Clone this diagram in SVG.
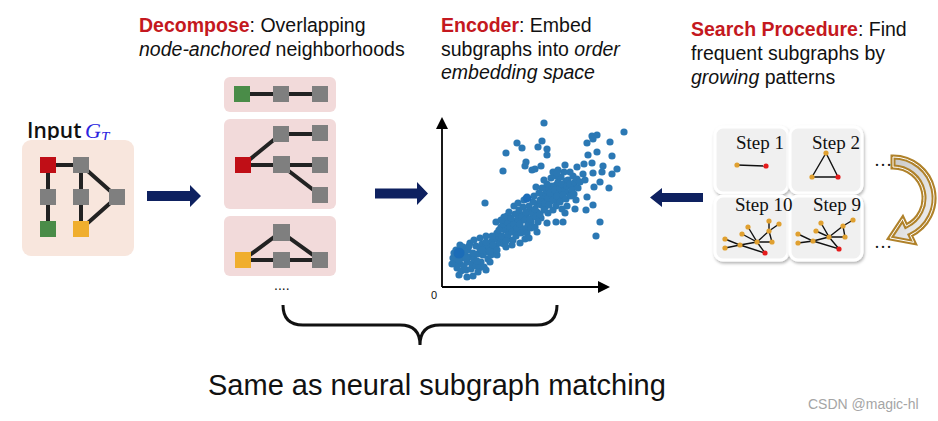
<svg xmlns="http://www.w3.org/2000/svg" width="938" height="421" viewBox="0 0 938 421">
<defs>
<style>
.t{font-family:"Liberation Sans",Arial,sans-serif;font-size:19.5px;fill:#111}
.red{fill:#C41820;font-weight:bold}
.it{font-style:italic}
.edge{stroke:#222;stroke-width:4;fill:none}
.gray{fill:#7F7F7F}
.pt circle{r:3.6px}
.pt{fill:#2B78B4}
.se{stroke:#111;stroke-width:1.4;fill:none}
.on{fill:#E0A030}
.rn{fill:#E51B1B}
.step{font-family:"Liberation Serif","Times New Roman",serif;font-size:19px;fill:#111}
.nav{fill:#0E2160}
.tile{fill:#F0F0F0;stroke:#fff;stroke-width:3}
</style>
<filter id="sh" x="-20%" y="-20%" width="140%" height="140%">
<feDropShadow dx="1" dy="2" stdDeviation="1.5" flood-color="#000" flood-opacity="0.3"/>
</filter>
<marker id="ah" viewBox="0 0 12 12" refX="10" refY="6" markerWidth="12" markerHeight="12" markerUnits="userSpaceOnUse" orient="auto">
<path d="M0,0 L12,6 L0,12 Z" fill="#000"/>
</marker>
<linearGradient id="ag" x1="0" y1="0" x2="1" y2="1">
<stop offset="0" stop-color="#C8C8C8"/>
<stop offset="1" stop-color="#F4F4F4"/>
</linearGradient>
</defs>
<rect width="938" height="421" fill="#fff"/>

<!-- Headings -->
<g id="decompose-label">
<text class="t" x="139" y="32"><tspan class="red">Decompose</tspan>: Overlapping</text>
<text class="t" x="139" y="55.5"><tspan class="it">node-anchored</tspan> neighborhoods</text>
</g>
<g id="encoder-label">
<text class="t" x="441" y="32"><tspan class="red">Encoder</tspan>: Embed</text>
<text class="t" x="441" y="55.5">subgraphs into <tspan class="it">order</tspan></text>
<text class="t" x="441" y="79" font-style="italic">embedding space</text>
</g>
<g id="search-label">
<text class="t" x="691" y="35.5"><tspan class="red">Search Procedure</tspan>: Find</text>
<text class="t" x="691" y="59.5">frequent subgraphs by</text>
<text class="t" x="691" y="83.5"><tspan class="it">growing</tspan> patterns</text>
</g>

<!-- Input graph -->
<g id="input">
<text x="27" y="138" font-family="'Open Sans','Noto Sans',sans-serif" font-size="21" font-weight="600" fill="#111">Input</text>
<text x="85" y="138" font-family="'Liberation Serif',serif" font-style="italic" font-size="22" fill="#2A24E0">G<tspan font-size="15" dy="4">T</tspan></text>
<rect x="22" y="140" width="112" height="116" rx="9" fill="#F8E6DD"/>
<path class="edge" d="M48,165 H81 M48,165 V229 M81,165 V229 M81,165 L117,197 L81,229"/>
<rect x="40" y="157" width="16" height="16" fill="#C00E16"/>
<rect class="gray" x="73" y="157" width="16" height="16"/>
<rect class="gray" x="40" y="189" width="16" height="16"/>
<rect class="gray" x="73" y="189" width="16" height="16"/>
<rect class="gray" x="109" y="189" width="16" height="16"/>
<rect x="40" y="221" width="16" height="16" fill="#4A8C48"/>
<rect x="73" y="221" width="16" height="16" fill="#F0AE2E"/>
</g>

<!-- Decompose panels -->
<g id="nbr1">
<rect x="224" y="77" width="112" height="35" rx="6" fill="#F2DADA"/>
<path class="edge" d="M242,94 H320"/>
<rect x="234" y="86" width="16" height="16" fill="#4A8C48"/>
<rect class="gray" x="273" y="86" width="16" height="16"/>
<rect class="gray" x="312" y="86" width="16" height="16"/>
</g>
<g id="nbr2">
<rect x="224" y="119" width="112" height="90" rx="6" fill="#F2DADA"/>
<path class="edge" d="M243,165 L281,134 H320 M243,165 H320 M281,165 L320,195"/>
<rect x="235" y="157" width="16" height="16" fill="#C00E16"/>
<rect class="gray" x="273" y="126" width="16" height="16"/>
<rect class="gray" x="312" y="125" width="16" height="16"/>
<rect class="gray" x="273" y="156" width="17" height="17"/>
<rect class="gray" x="312" y="157" width="16" height="16"/>
<rect class="gray" x="312" y="187" width="16" height="16"/>
</g>
<g id="nbr3">
<rect x="224" y="216" width="112" height="60" rx="6" fill="#F2DADA"/>
<path class="edge" d="M243,260 L281,232 L320,260 H243"/>
<rect x="235" y="252" width="16" height="16" fill="#F0AE2E"/>
<rect class="gray" x="273" y="224" width="17" height="17"/>
<rect class="gray" x="273" y="252" width="17" height="16"/>
<rect class="gray" x="312" y="252" width="16" height="16"/>
</g>
<text x="274" y="290" font-family="'Liberation Sans',sans-serif" font-size="14" fill="#111">....</text>

<!-- Block arrows -->
<g id="connectors">
<path class="nav" d="M147,191 H190 V185 L201,196 L190,207 V201 H147 Z"/>
<path class="nav" d="M375,188.5 H417 V182 L428,193.5 L417,205 V198.5 H375 Z"/>
<path class="nav" d="M703,193 H662 V188 L650,197.5 L662,207 V202 H703 Z"/>
<path d="M893,157 A41,41 0 0 1 910.3,235.2 L913.7,242.4 L890,238 L902.7,218.8 L906.1,226.1 A31,31 0 0 0 893,167 Z" fill="url(#ag)" stroke="#B0822A" stroke-width="5" stroke-linejoin="miter"/>
<path d="M893,157 A41,41 0 0 1 910.3,235.2 L913.7,242.4 L890,238 L902.7,218.8 L906.1,226.1 A31,31 0 0 0 893,167 Z" fill="none" stroke="#fff" stroke-width="1"/>
<path d="M283,305 Q283,325 303,325 L400,325 Q420,325 420,345 Q420,325 440,325 L537,325 Q557,325 557,305" fill="none" stroke="#111" stroke-width="3"/>
</g>

<!-- Scatter plot -->
<g id="plot">
<path d="M442,287 V119" stroke="#000" stroke-width="1.8" marker-end="url(#ah)"/>
<path d="M442,287 H608" stroke="#000" stroke-width="1.8" marker-end="url(#ah)"/>
<text x="431" y="299" font-family="'Liberation Sans',sans-serif" font-size="11" fill="#111">0</text>
<g class="pt">
<circle cx="456" cy="250" r="3.6"/><circle cx="458" cy="256" r="3.6"/><circle cx="455" cy="262" r="3.6"/><circle cx="460" cy="264" r="3.6"/><circle cx="462" cy="258" r="3.6"/><circle cx="465" cy="253" r="3.6"/><circle cx="463" cy="247" r="3.6"/><circle cx="468" cy="250" r="3.6"/><circle cx="470" cy="257" r="3.6"/><circle cx="467" cy="262" r="3.6"/><circle cx="472" cy="264" r="3.6"/><circle cx="457" cy="268" r="3.6"/><circle cx="461" cy="271" r="3.6"/><circle cx="466" cy="270" r="3.6"/><circle cx="471" cy="269" r="3.6"/><circle cx="476" cy="266" r="3.6"/><circle cx="474" cy="259" r="3.6"/><circle cx="478" cy="254" r="3.6"/><circle cx="480" cy="249" r="3.6"/><circle cx="476" cy="246" r="3.6"/><circle cx="482" cy="244" r="3.6"/><circle cx="485" cy="248" r="3.6"/><circle cx="483" cy="255" r="3.6"/><circle cx="487" cy="252" r="3.6"/><circle cx="488" cy="259" r="3.6"/><circle cx="481" cy="262" r="3.6"/><circle cx="479" cy="268" r="3.6"/><circle cx="484" cy="267" r="3.6"/><circle cx="490" cy="262" r="3.6"/><circle cx="489" cy="246" r="3.6"/><circle cx="492" cy="241" r="3.6"/><circle cx="494" cy="250" r="3.6"/><circle cx="491" cy="255" r="3.6"/><circle cx="496" cy="246" r="3.6"/><circle cx="498" cy="240" r="3.6"/><circle cx="495" cy="236" r="3.6"/><circle cx="500" cy="243" r="3.6"/><circle cx="497" cy="255" r="3.6"/><circle cx="473" cy="276" r="3.6"/><circle cx="467" cy="277" r="3.6"/><circle cx="478" cy="272" r="3.6"/><circle cx="486" cy="270" r="3.6"/><circle cx="459" cy="275" r="3.6"/><circle cx="453" cy="258" r="3.6"/><circle cx="454" cy="253" r="3.6"/><circle cx="460" cy="245" r="3.6"/><circle cx="470" cy="243" r="3.6"/><circle cx="474" cy="240" r="3.6"/><circle cx="480" cy="238" r="3.6"/><circle cx="486" cy="236" r="3.6"/><circle cx="452" cy="264" r="3.6"/>
<circle cx="459" cy="260" r="3.6"/><circle cx="464" cy="266" r="3.6"/><circle cx="469" cy="246" r="3.6"/><circle cx="473" cy="253" r="3.6"/><circle cx="477" cy="261" r="3.6"/><circle cx="482" cy="250" r="3.6"/><circle cx="486" cy="242" r="3.6"/><circle cx="490" cy="251" r="3.6"/><circle cx="493" cy="245" r="3.6"/><circle cx="497" cy="250" r="3.6"/><circle cx="501" cy="238" r="3.6"/><circle cx="504" cy="244" r="3.6"/><circle cx="508" cy="239" r="3.6"/><circle cx="505" cy="226" r="3.6"/><circle cx="509" cy="231" r="3.6"/><circle cx="513" cy="228" r="3.6"/><circle cx="516" cy="221" r="3.6"/><circle cx="516" cy="232" r="3.6"/><circle cx="521" cy="228" r="3.6"/><circle cx="522" cy="220" r="3.6"/><circle cx="526" cy="216" r="3.6"/><circle cx="527" cy="228" r="3.6"/><circle cx="531" cy="222" r="3.6"/><circle cx="533" cy="217" r="3.6"/><circle cx="537" cy="212" r="3.6"/><circle cx="530" cy="210" r="3.6"/><circle cx="537" cy="204" r="3.6"/><circle cx="542" cy="199" r="3.6"/><circle cx="545" cy="207" r="3.6"/><circle cx="541" cy="218" r="3.6"/><circle cx="546" cy="196" r="3.6"/><circle cx="551" cy="201" r="3.6"/><circle cx="553" cy="194" r="3.6"/><circle cx="557" cy="201" r="3.6"/><circle cx="559" cy="193" r="3.6"/><circle cx="562" cy="199" r="3.6"/><circle cx="564" cy="187" r="3.6"/><circle cx="569" cy="193" r="3.6"/><circle cx="571" cy="187" r="3.6"/><circle cx="574" cy="185" r="3.6"/><circle cx="566" cy="181" r="3.6"/><circle cx="556" cy="185" r="3.6"/><circle cx="549" cy="189" r="3.6"/><circle cx="520" cy="214" r="3.6"/><circle cx="512" cy="221" r="3.6"/><circle cx="507" cy="216" r="3.6"/><circle cx="501" cy="227" r="3.6"/><circle cx="497" cy="233" r="3.6"/><circle cx="492" cy="236" r="3.6"/><circle cx="466" cy="258" r="3.6"/>
<circle cx="502" cy="236" r="3.6"/><circle cx="505" cy="230" r="3.6"/><circle cx="503" cy="224" r="3.6"/><circle cx="507" cy="222" r="3.6"/><circle cx="510" cy="227" r="3.6"/><circle cx="508" cy="235" r="3.6"/><circle cx="512" cy="232" r="3.6"/><circle cx="514" cy="224" r="3.6"/><circle cx="511" cy="218" r="3.6"/><circle cx="515" cy="214" r="3.6"/><circle cx="518" cy="219" r="3.6"/><circle cx="517" cy="228" r="3.6"/><circle cx="520" cy="224" r="3.6"/><circle cx="522" cy="216" r="3.6"/><circle cx="519" cy="210" r="3.6"/><circle cx="523" cy="207" r="3.6"/><circle cx="526" cy="212" r="3.6"/><circle cx="525" cy="220" r="3.6"/><circle cx="528" cy="225" r="3.6"/><circle cx="524" cy="229" r="3.6"/><circle cx="530" cy="219" r="3.6"/><circle cx="532" cy="213" r="3.6"/><circle cx="529" cy="206" r="3.6"/><circle cx="533" cy="202" r="3.6"/><circle cx="535" cy="209" r="3.6"/><circle cx="536" cy="217" r="3.6"/><circle cx="513" cy="240" r="3.6"/><circle cx="506" cy="241" r="3.6"/><circle cx="516" cy="236" r="3.6"/><circle cx="521" cy="233" r="3.6"/><circle cx="527" cy="233" r="3.6"/><circle cx="531" cy="228" r="3.6"/><circle cx="509" cy="212" r="3.6"/><circle cx="504" cy="217" r="3.6"/><circle cx="499" cy="230" r="3.6"/><circle cx="501" cy="220" r="3.6"/><circle cx="514" cy="206" r="3.6"/><circle cx="518" cy="203" r="3.6"/><circle cx="524" cy="200" r="3.6"/><circle cx="535" cy="227" r="3.6"/><circle cx="538" cy="222" r="3.6"/><circle cx="525" cy="239" r="3.6"/><circle cx="520" cy="243" r="3.6"/><circle cx="529" cy="238" r="3.6"/><circle cx="512" cy="245" r="3.6"/><circle cx="506" cy="247" r="3.6"/><circle cx="537" cy="232" r="3.6"/><circle cx="540" cy="214" r="3.6"/><circle cx="541" cy="205" r="3.6"/><circle cx="534" cy="196" r="3.6"/>
<circle cx="540" cy="200" r="3.6"/><circle cx="543" cy="195" r="3.6"/><circle cx="545" cy="203" r="3.6"/><circle cx="548" cy="198" r="3.6"/><circle cx="546" cy="190" r="3.6"/><circle cx="550" cy="193" r="3.6"/><circle cx="552" cy="186" r="3.6"/><circle cx="555" cy="190" r="3.6"/><circle cx="553" cy="200" r="3.6"/><circle cx="557" cy="196" r="3.6"/><circle cx="560" cy="188" r="3.6"/><circle cx="558" cy="182" r="3.6"/><circle cx="562" cy="184" r="3.6"/><circle cx="565" cy="190" r="3.6"/><circle cx="563" cy="195" r="3.6"/><circle cx="567" cy="186" r="3.6"/><circle cx="568" cy="180" r="3.6"/><circle cx="570" cy="184" r="3.6"/><circle cx="572" cy="190" r="3.6"/><circle cx="575" cy="182" r="3.6"/><circle cx="573" cy="176" r="3.6"/><circle cx="577" cy="179" r="3.6"/><circle cx="549" cy="205" r="3.6"/><circle cx="544" cy="210" r="3.6"/><circle cx="556" cy="206" r="3.6"/><circle cx="560" cy="202" r="3.6"/><circle cx="566" cy="199" r="3.6"/><circle cx="571" cy="196" r="3.6"/><circle cx="551" cy="178" r="3.6"/><circle cx="556" cy="176" r="3.6"/><circle cx="561" cy="177" r="3.6"/><circle cx="547" cy="184" r="3.6"/><circle cx="542" cy="188" r="3.6"/><circle cx="539" cy="193" r="3.6"/><circle cx="578" cy="188" r="3.6"/><circle cx="580" cy="182" r="3.6"/><circle cx="574" cy="194" r="3.6"/><circle cx="548" cy="213" r="3.6"/><circle cx="553" cy="210" r="3.6"/><circle cx="562" cy="209" r="3.6"/><circle cx="567" cy="206" r="3.6"/><circle cx="576" cy="200" r="3.6"/><circle cx="544" cy="180" r="3.6"/><circle cx="570" cy="172" r="3.6"/><circle cx="564" cy="172" r="3.6"/><circle cx="536" cy="187" r="3.6"/><circle cx="558" cy="170" r="3.6"/><circle cx="553" cy="172" r="3.6"/>
<circle cx="517" cy="143" r="3.6"/><circle cx="522" cy="148" r="3.6"/><circle cx="538" cy="147" r="3.6"/><circle cx="542" cy="141" r="3.6"/><circle cx="547" cy="149" r="3.6"/><circle cx="506" cy="153" r="3.6"/><circle cx="547" cy="155" r="3.6"/><circle cx="526" cy="162" r="3.6"/><circle cx="541" cy="166" r="3.6"/><circle cx="525" cy="166" r="3.6"/><circle cx="503" cy="171" r="3.6"/><circle cx="532" cy="170" r="3.6"/><circle cx="535" cy="169" r="3.6"/><circle cx="565" cy="165" r="3.6"/><circle cx="557" cy="173" r="3.6"/><circle cx="587" cy="143" r="3.6"/><circle cx="592" cy="136" r="3.6"/><circle cx="597" cy="135" r="3.6"/><circle cx="593" cy="139" r="3.6"/><circle cx="610" cy="142" r="3.6"/><circle cx="597" cy="152" r="3.6"/><circle cx="588" cy="155" r="3.6"/><circle cx="612" cy="156" r="3.6"/><circle cx="603" cy="166" r="3.6"/><circle cx="577" cy="167" r="3.6"/><circle cx="584" cy="164" r="3.6"/><circle cx="592" cy="163" r="3.6"/><circle cx="617" cy="169" r="3.6"/><circle cx="612" cy="174" r="3.6"/><circle cx="602" cy="172" r="3.6"/><circle cx="583" cy="174" r="3.6"/><circle cx="593" cy="173" r="3.6"/><circle cx="600" cy="182" r="3.6"/><circle cx="609" cy="188" r="3.6"/><circle cx="594" cy="187" r="3.6"/><circle cx="585" cy="180" r="3.6"/><circle cx="587" cy="197" r="3.6"/><circle cx="593" cy="205" r="3.6"/><circle cx="586" cy="210" r="3.6"/><circle cx="575" cy="209" r="3.6"/><circle cx="600" cy="222" r="3.6"/><circle cx="596" cy="236" r="3.6"/><circle cx="485" cy="203" r="3.6"/><circle cx="563" cy="222" r="3.6"/><circle cx="547" cy="223" r="3.6"/><circle cx="556" cy="222" r="3.6"/><circle cx="565" cy="213" r="3.6"/><circle cx="544" cy="123" r="3.6"/><circle cx="624" cy="132" r="3.6"/><circle cx="496" cy="222" r="3.6"/>
</g>
<circle cx="527" cy="198" r="4.4" fill="#1C6DB8"/>
<circle cx="459" cy="253" r="5.5" fill="#1C6DB8"/>
</g>

<!-- Search steps -->
<g id="step1">
<rect class="tile" x="715" y="127" width="73" height="66" rx="8" filter="url(#sh)"/>
<path class="se" d="M737,165 L766,166"/>
<circle class="on" cx="737" cy="165" r="2.6"/><circle class="rn" cx="766" cy="166" r="2.6"/>
</g>
<g id="step2">
<rect class="tile" x="790" y="127" width="72" height="66" rx="8" filter="url(#sh)"/>
<path class="se" d="M826,153 L812,177 L838,177 Z"/>
<circle class="on" cx="826" cy="153" r="2.6"/><circle class="on" cx="812" cy="177" r="2.6"/><circle class="rn" cx="838" cy="177" r="2.6"/>
</g>
<g id="step10">
<rect class="tile" x="715" y="196" width="73" height="64" rx="8" filter="url(#sh)"/>
<path class="se" d="M725,239 L740,245 L725,248 M740,245 L757,242 M740,245 L765,253 L757,242 M748,227 L757,242 L742,234 M757,242 L769,231 L772,242 Z M769,231 L769,221 M769,231 L779,224"/>
<circle class="on" cx="725" cy="239" r="2.6"/><circle class="on" cx="725" cy="248" r="2.6"/><circle class="on" cx="740" cy="245" r="2.6"/><circle class="on" cx="748" cy="227" r="2.6"/><circle class="on" cx="742" cy="234" r="2.6"/><circle class="on" cx="757" cy="242" r="2.6"/><circle class="on" cx="769" cy="221" r="2.6"/><circle class="on" cx="779" cy="224" r="2.6"/><circle class="on" cx="769" cy="231" r="2.6"/><circle class="on" cx="772" cy="242" r="2.6"/><circle class="rn" cx="765" cy="253" r="2.6"/>
</g>
<g id="step9">
<rect class="tile" x="790" y="196" width="72" height="64" rx="8" filter="url(#sh)"/>
<path class="se" d="M798,234 L813,241 L798,243 M813,241 L829,237 M813,241 L839,249 L829,237 M821,223 L829,237 L816,231 M829,237 L843,226 L845,237 Z M843,226 L853,220"/>
<circle class="on" cx="798" cy="234" r="2.6"/><circle class="on" cx="798" cy="243" r="2.6"/><circle class="on" cx="813" cy="241" r="2.6"/><circle class="on" cx="821" cy="223" r="2.6"/><circle class="on" cx="816" cy="231" r="2.6"/><circle class="on" cx="829" cy="237" r="2.6"/><circle class="on" cx="843" cy="226" r="2.6"/><circle class="on" cx="853" cy="220" r="2.6"/><circle class="on" cx="845" cy="237" r="2.6"/><circle class="rn" cx="839" cy="249" r="2.6"/>
</g>
<g id="step-labels">
<text class="step" x="736" y="149">Step 1</text>
<text class="step" x="812" y="149">Step 2</text>
<text class="step" x="735" y="211">Step 10</text>
<text class="step" x="813" y="211">Step 9</text>
</g>
<text x="874" y="166" font-family="'Liberation Serif',serif" font-size="18" fill="#111">…</text>
<text x="874" y="248" font-family="'Liberation Serif',serif" font-size="18" fill="#111">…</text>

<text x="208" y="395" font-family="'Liberation Sans',Arial,sans-serif" font-size="29" fill="#111">Same as neural subgraph matching</text>
<text x="808" y="409" font-family="'Liberation Sans',Arial,sans-serif" font-size="14" fill="#A5A5A5">CSDN @magic-hl</text>
</svg>
